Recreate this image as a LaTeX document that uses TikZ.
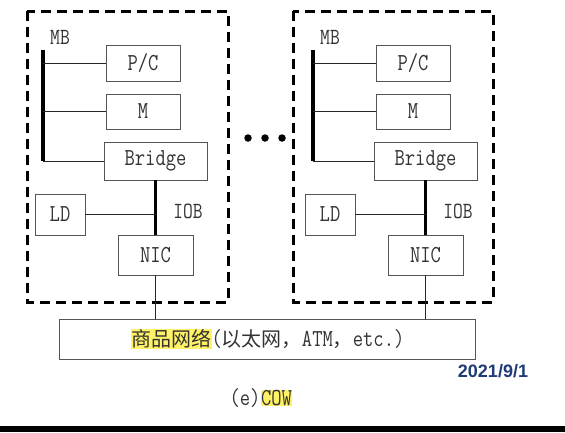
\documentclass[tikz,border=0pt]{standalone}
\usepackage{fontspec}
\newfontfamily\cjk{Noto Sans CJK SC}
\newfontfamily\dateface{Liberation Sans}
\usetikzlibrary{calc}
\definecolor{hl}{HTML}{FFF266}
\definecolor{boxgray}{HTML}{555555}
\definecolor{datecol}{HTML}{1F3C78}
\newcommand\vtxt[1]{\scalebox{1}[1.22]{#1}}
\begin{document}
\begin{tikzpicture}[x=1pt,y=-1pt,
  box/.style={draw=boxgray,line width=0.8pt,inner sep=0pt,text=black!80,font=\fontsize{20}{22}\selectfont\ttfamily},
  lbl/.style={inner sep=0pt,text=black!80,font=\fontsize{19}{21}\selectfont\ttfamily},
  link/.style={draw=black!85,line width=0.8pt},
  bus/.style={draw=black,line width=3.5pt},
  frame/.style={draw=black,line width=3pt,dash pattern=on 10pt off 6pt},
  dot/.style={circle,fill=black,inner sep=0pt,minimum size=7.5pt}]
\useasboundingbox (0,0) rectangle (565,432);
\fill[white] (0,0) rectangle (565,432);
% dashed frames
\draw[frame] (27,11) rectangle (228,302);
\draw[frame] (293,11) rectangle (493,302);
% units
\foreach \p/\dx in {l/0,r/270}{
  \begin{scope}[xshift=\dx]
  \node[box,minimum width=74pt,minimum height=36pt] (\p-pc) at (143,63) {\vtxt{P/C}};
  \node[box,minimum width=74pt,minimum height=35pt] (\p-m) at (143,111.5) {\vtxt{M}};
  \node[box,minimum width=103pt,minimum height=38pt] (\p-br) at (155.5,161) {\vtxt{Bridge}};
  \node[box,minimum width=50pt,minimum height=41pt] (\p-ld) at (60,214.5) {\vtxt{LD}};
  \node[box,minimum width=75pt,minimum height=40pt] (\p-nic) at (155.5,255) {\vtxt{NIC}};
  \node[lbl] (\p-mb) at (60,37) {\vtxt{MB}};
  \node[lbl] (\p-iob) at (188,211) {\vtxt{IOB}};
  \coordinate (\p-mbtop) at (43,50);
  \coordinate (\p-mbbot) at (43,161);
  \end{scope}
  \draw[bus] (\p-mbtop) -- (\p-mbbot);
  \draw[link] (\p-mbtop |- \p-pc.west) -- (\p-pc.west);
  \draw[link] (\p-mbtop |- \p-m.west) -- (\p-m.west);
  \draw[link] (\p-mbbot) -- (\p-br.west);
  \draw[bus] (\p-br.south) -- (\p-nic.north);
  \draw[link] (\p-ld.east) -- (\p-ld.east -| \p-br.south);
}
% network
\node[box,minimum width=416pt,minimum height=40pt] (net) at (267.5,339)
  {\setlength{\fboxsep}{0.5pt}\colorbox{hl}{\cjk 商品网络}\vtxt{(}\cjk 以太网，\ttfamily \vtxt{ATM}\cjk ，\ttfamily \vtxt{etc.)}};
\draw[link] (l-nic.south) -- (l-nic.south |- net.north);
\draw[link] (r-nic.south) -- (r-nic.south |- net.north);
% dots
\node[dot] (d1) at (248,138) {};
\node[dot] (d2) at (265,138) {};
\node[dot] (d3) at (282,138) {};
% date and caption
\node[inner sep=0pt,text=datecol,font=\fontsize{18}{20}\selectfont\dateface\bfseries] (date) at (493,371) {2021/9/1};
\node[inner sep=0pt,text=black!80,font=\fontsize{20}{22}\selectfont\ttfamily] (cap) at (261,398)
  {\vtxt{(e)}\setlength{\fboxsep}{0.5pt}\colorbox{hl}{\vtxt{COW}}};
% bottom bar
\fill[black] (0,426) rectangle (565,432);
\end{tikzpicture}
\end{document}
